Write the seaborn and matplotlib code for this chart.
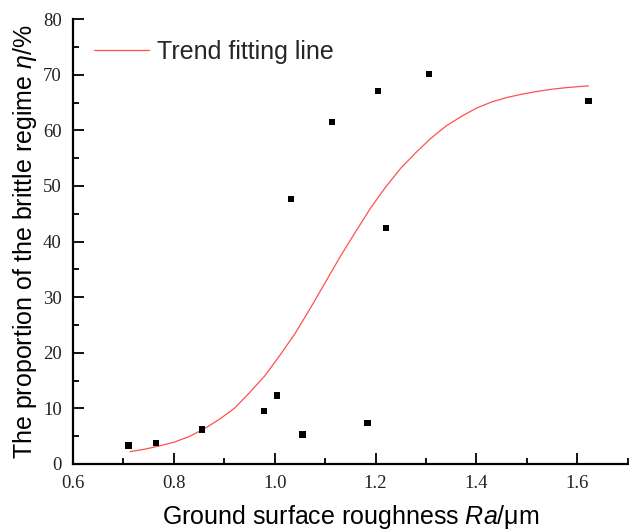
import matplotlib
matplotlib.use("Agg")
import matplotlib.pyplot as plt
import seaborn as sns
import pandas as pd
from matplotlib.ticker import MultipleLocator

# Measured points
ra = [0.710, 0.764, 0.856, 0.979, 1.005, 1.033, 1.055, 1.113, 1.184, 1.205, 1.221, 1.306, 1.622]
eta = [3.3, 3.8, 6.2, 9.5, 12.3, 47.6, 5.3, 61.5, 7.4, 67.1, 42.4, 70.2, 65.3]

# Trend fitting line
fit_x = [0.713, 0.74, 0.77, 0.80, 0.83, 0.86, 0.89, 0.92, 0.95, 0.98, 1.01,
         1.04, 1.07, 1.10, 1.13, 1.16, 1.19, 1.22, 1.25, 1.28, 1.31, 1.34,
         1.37, 1.40, 1.43, 1.46, 1.49, 1.52, 1.55, 1.58, 1.622]
fit_y = [2.2, 2.6, 3.2, 3.9, 4.9, 6.3, 8.0, 10.0, 12.8, 15.8, 19.5,
         23.4, 27.9, 32.6, 37.3, 41.7, 46.0, 49.8, 53.2, 56.0, 58.6, 60.8,
         62.5, 64.0, 65.1, 65.9, 66.5, 67.0, 67.4, 67.7, 68.0]

xticks = [0.6, 0.8, 1.0, 1.2, 1.4, 1.6]
xticklabels = ["0.6", "0.8", "1.0", "1.2", "1.4", "1.6"]
yticks = [0, 10, 20, 30, 40, 50, 60, 70, 80]

sns.set_theme(style="ticks")
plt.rcParams["font.family"] = ["Liberation Sans", "DejaVu Sans"]
plt.rcParams["mathtext.fontset"] = "custom"
plt.rcParams["mathtext.it"] = "Liberation Sans:italic"
plt.rcParams["mathtext.rm"] = "Liberation Sans"

fig = plt.figure(figsize=(6.29, 5.32), dpi=100)
ax = fig.add_axes([0.116, 0.128, 0.882, 0.836])

df_pts = pd.DataFrame({"Ra": ra, "eta": eta})
df_fit = pd.DataFrame({"Ra": fit_x, "eta": fit_y})

sns.lineplot(data=df_fit, x="Ra", y="eta", ax=ax, color="#ff5050", linewidth=0.9,
             label="Trend fitting line", sort=True, estimator=None)
sns.scatterplot(data=df_pts, x="Ra", y="eta", ax=ax, marker="s", s=20,
                color="black", edgecolor="none", zorder=3, legend=False)

ax.set_xlim(0.6, 1.7)
ax.set_ylim(0, 80)
ax.set_xticks(xticks)
ax.set_xticklabels(xticklabels)
ax.set_yticks(yticks)
ax.xaxis.set_minor_locator(MultipleLocator(0.1))
ax.yaxis.set_minor_locator(MultipleLocator(5))

for lab in ax.get_xticklabels() + ax.get_yticklabels():
    lab.set_fontfamily("Liberation Serif")
    lab.set_fontsize(13.5)
    lab.set_color("#222222")

ax.tick_params(which="major", direction="in", length=8, width=1.3, color="black", pad=8)
ax.tick_params(which="minor", direction="in", length=4, width=1.3, color="black")

for side in ["top", "right"]:
    ax.spines[side].set_visible(False)
for side in ["left", "bottom"]:
    ax.spines[side].set_linewidth(1.6)
    ax.spines[side].set_color("black")

ax.set_xlabel("Ground surface roughness $\\mathit{Ra}$/μm", fontsize=18, labelpad=8, color="black")
ax.set_ylabel("The proportion of the brittle regime $\\mathit{η}$/%", fontsize=18, labelpad=3, color="black")

leg = ax.legend(loc="upper left", frameon=False, fontsize=18, handlelength=2.2,
                handletextpad=0.35, bbox_to_anchor=(-0.008, 1.009), borderaxespad=0.6)

fig.savefig("out.png", dpi=100, facecolor="white")
